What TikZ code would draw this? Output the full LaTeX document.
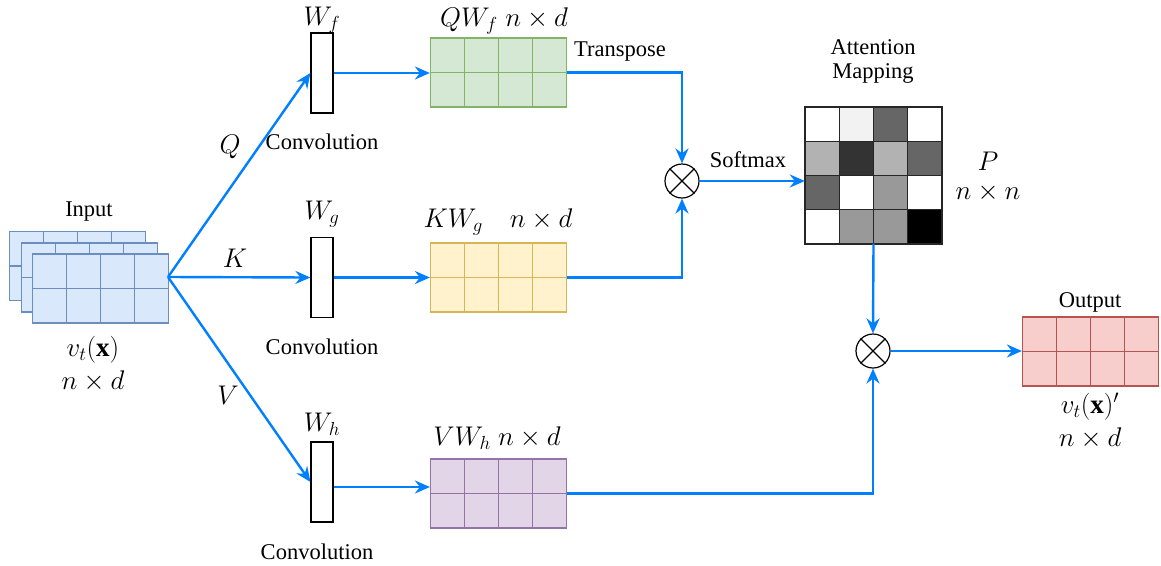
\RequirePackage{fix-cm}
\documentclass[tikz,border=0pt]{standalone}
\usepackage{fontspec}
\setmainfont{Liberation Serif}
\usetikzlibrary{arrows.meta,calc}

\definecolor{flow}{HTML}{007FFF}
\definecolor{inFill}{HTML}{DAE8FC}\definecolor{inLine}{HTML}{6C8EBF}
\definecolor{qFill}{HTML}{D5E8D4}\definecolor{qLine}{HTML}{82B366}
\definecolor{kFill}{HTML}{FFF2CC}\definecolor{kLine}{HTML}{D6B656}
\definecolor{vFill}{HTML}{E1D5E7}\definecolor{vLine}{HTML}{9673A6}
\definecolor{oFill}{HTML}{F8CECC}\definecolor{oLine}{HTML}{B85450}

\tikzset{
  txt/.style={inner sep=0pt, font=\fontsize{22.5}{26}\selectfont},
  mth/.style={inner sep=0pt, font=\fontsize{27}{31}\selectfont},
  mat/.style={draw=#1Line, fill=#1Fill, line width=1.2pt, minimum width=136pt,
              minimum height=69pt, inner sep=0pt},
  convbox/.style={draw=black, fill=white, line width=1.2pt, minimum width=22pt,
              minimum height=80pt, inner sep=0pt},
  mulnode/.style={circle, draw=black, fill=white, line width=1.2pt,
              minimum size=34pt, inner sep=0pt},
  cell/.style={draw=black!85, line width=1.2pt, minimum size=34.25pt, inner sep=0pt},
  flowline/.style={draw=flow, line width=2.4pt},
  flowarrow/.style={flowline, -{Stealth[length=15pt,width=13pt,inset=5pt]}},
}

% a 2 x 4 grid drawn inside a named matrix node
\newcommand{\gridlines}[2]{%
  \foreach \f in {0.25,0.5,0.75}
    \draw[#2Line, line width=1.2pt] ($(#1.north west)!\f!(#1.north east)$) -- ($(#1.south west)!\f!(#1.south east)$);
  \draw[#2Line, line width=1.2pt] (#1.west) -- (#1.east);}

\begin{document}
\begin{tikzpicture}[x=1pt, y=-1pt]
\useasboundingbox (0,0) rectangle (1161,565);

% input feature stack
\node[mat=in] (in1) at (77.5,266) {};   \gridlines{in1}{in}
\node[mat=in] (in2) at (89.5,277.5) {}; \gridlines{in2}{in}
\node[mat=in] (in3) at (100.5,288.5) {};\gridlines{in3}{in}
\node[txt] (lin) at (89,212) {Input};
\node[mth] (lvx) at (93,350) {$v_t(\mathbf{x})$};
\node[mth] (lnd) at (93,381) {$n\times d$};
\coordinate (fan) at (168,277);

% convolution kernels
\node[convbox] (wf) at (322,73) {};
\node[convbox] (wg) at (322,277.5) {};
\node[convbox] (wh) at (322,482) {};
\node[mth] (lwf) at (322,20) {$W_f$};
\node[mth] (lwg) at (322,214) {$W_g$};
\node[mth] (lwh) at (322,424) {$W_h$};
\node[txt] (c1) at (322,142) {Convolution};
\node[txt] (c2) at (322,347) {Convolution};
\node[txt] (c3) at (317,552) {Convolution};

% projected features
\node[mat=q] (qb) at (498.5,72.5) {};  \gridlines{qb}{q}
\node[mat=k] (kb) at (498.5,277.5) {}; \gridlines{kb}{k}
\node[mat=v] (vb) at (498.5,493.5) {}; \gridlines{vb}{v}
\node[mth] (lqb) at (504,21) {$QW_f\; n\times d$};
\node[mth] (lkb) at (498,222) {$KW_g\quad n\times d$};
\node[mth] (lvb) at (497,438) {$VW_h\; n\times d$};

% branch labels
\node[mth] (lq) at (230,147) {$Q$};
\node[mth] (lk) at (235,258) {$K$};
\node[mth] (lv) at (228,395) {$V$};

% products
\node[mulnode] (m1) at (682,181) {};
\draw[line width=1.2pt] (m1.north east) -- (m1.south west) (m1.north west) -- (m1.south east);
\node[mulnode] (m2) at (873,351) {};
\draw[line width=1.2pt] (m2.north east) -- (m2.south west) (m2.north west) -- (m2.south east);

% attention map
\node[minimum size=137pt, inner sep=0pt] (att) at (873.5,175) {};
\foreach \r/\c/\g in {1/1/0,1/2/5,1/3/60,1/4/0,
                      2/1/30,2/2/80,2/3/30,2/4/60,
                      3/1/60,3/2/0,3/3/40,3/4/0,
                      4/1/0,4/2/40,4/3/40,4/4/100}
  \node[cell, fill=black!\g] (a\r\c) at ({805+34.25*(\c-0.5)},{107+34.25*(\r-0.5)}) {};
\node[txt] (lat) at (873,47) {Attention};
\node[txt] (lmp) at (873,73) {Mapping};
\node[mth] (lp) at (988,161) {$P$};
\node[mth] (lnn) at (988,193) {$n\times n$};

% output
\node[mat=o] (ob) at (1090.5,351.5) {}; \gridlines{ob}{o}
\node[txt] (lout) at (1090,302) {Output};
\node[mth] (lvo) at (1090,407) {$v_t(\mathbf{x})'$};
\node[mth] (lno) at (1090,438) {$n\times d$};

% connectors
\coordinate (whout) at ($(wh.east)+(0,5)$);
\draw[flowarrow] (fan) -- (wf.west);
\draw[flowarrow] (fan) -- (wg.west);
\draw[flowarrow] (fan) -- (wh.west);
\draw[flowarrow] (wf.east) -- (wf.east -| qb.west);
\draw[flowarrow] (wg.east) -- (wg.east -| kb.west);
\draw[flowarrow] (whout) -- (whout -| vb.west);
\draw[flowarrow] (qb.east) -| (m1.north);
\node[txt] (ltr) at (620,52) {Transpose};
\draw[flowarrow] (kb.east) -| (m1.south);
\draw[flowarrow] (m1.east) -- (m1.east -| att.west);
\node[txt] (lsm) at (748,160) {Softmax};
\draw[flowarrow] (att.south) -- (m2.north);
\draw[flowarrow] (vb.east) -| (m2.south);
\draw[flowarrow] (m2.east) -- (m2.east -| ob.west);
\end{tikzpicture}
\end{document}
